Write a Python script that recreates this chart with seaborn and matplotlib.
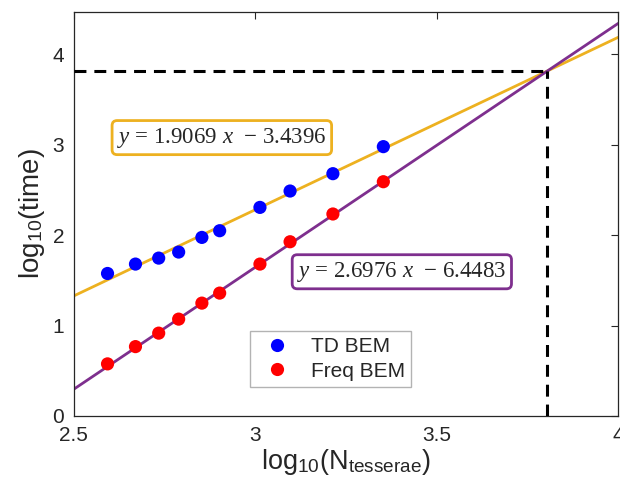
import numpy as np
import pandas as pd
import matplotlib
matplotlib.use("Agg")
import matplotlib.pyplot as plt
import seaborn as sns

# ---- data ----
log_n = [2.593, 2.670, 2.734, 2.789, 2.853, 2.902, 3.013, 3.096, 3.214, 3.353]
td_time = [1.576, 1.680, 1.746, 1.813, 1.975, 2.049, 2.307, 2.488, 2.680, 2.979]
freq_time = [0.576, 0.767, 0.916, 1.071, 1.248, 1.359, 1.680, 1.927, 2.234, 2.591]
series_names = ["TD BEM", "Freq BEM"]
td_fit = (1.9069, -3.4396)
freq_fit = (2.6976, -6.4483)
x_ticks = [2.5, 3, 3.5, 4]
x_tick_labels = ["2.5", "3", "3.5", "4"]
y_ticks = [0, 1, 2, 3, 4]

sns.set_theme(style="white")
plt.rcParams["font.family"] = ["Liberation Sans", "DejaVu Sans"]
plt.rcParams["mathtext.fontset"] = "custom"
plt.rcParams["mathtext.rm"] = "Liberation Sans"
plt.rcParams["mathtext.it"] = "Liberation Serif:italic"
plt.rcParams["mathtext.bf"] = "Liberation Sans:bold"

df = pd.DataFrame({
    "x": log_n * 2,
    "y": td_time + freq_time,
    "method": [series_names[0]] * len(log_n) + [series_names[1]] * len(log_n),
})

fig = plt.figure(figsize=(6.2, 4.94), dpi=100)
ax = fig.add_axes([0.119, 0.158, 0.878, 0.818])

yellow = "#EDB120"
purple = "#7E2F8E"

xline = np.array([2.5, 4.0])
fit_df = pd.DataFrame({
    "x": np.concatenate([xline, xline]),
    "y": np.concatenate([td_fit[0] * xline + td_fit[1], freq_fit[0] * xline + freq_fit[1]]),
    "fit": ["td"] * 2 + ["freq"] * 2,
})
sns.lineplot(data=fit_df, x="x", y="y", hue="fit", palette={"td": yellow, "freq": purple},
             linewidth=2, legend=False, ax=ax, zorder=2)

# intersection of the two fits
xi = (freq_fit[1] - td_fit[1]) / (td_fit[0] - freq_fit[0])
yi = td_fit[0] * xi + td_fit[1]
ax.plot([2.5, xi], [yi, yi], color="black", lw=2.2, linestyle=(0, (3.9, 2.6)), zorder=3)
ax.plot([xi, xi], [0, yi], color="black", lw=2.2, linestyle=(0, (3.9, 2.6)), zorder=3)

sns.scatterplot(data=df, x="x", y="y", hue="method",
                palette={series_names[0]: "#0000FF", series_names[1]: "#FF0000"},
                s=90, linewidth=0, ax=ax, zorder=4)

ax.set_xlim(2.5, 4.0)
ax.set_ylim(0, 4.47)
ax.set_xticks(x_ticks)
ax.set_xticklabels(x_tick_labels)
ax.set_yticks(y_ticks)
ax.tick_params(direction="in", length=5, width=0.8, colors="#262626", labelsize=15,
               top=True, right=True, pad=7)
ax.tick_params(axis="x", labeltop=False)
for sp in ax.spines.values():
    sp.set_color("#262626")
    sp.set_linewidth(0.9)

ax.set_xlabel(r"log$_{10}$(N$_{\rm tesserae}$)", fontsize=19.5, color="#262626", labelpad=2)
ax.set_ylabel(r"log$_{10}$(time)", fontsize=20, color="#262626", labelpad=4)

ax.text(2.908, 3.079, r"$y$ = 1.9069 $x$  − 3.4396", fontsize=16.5, family="Liberation Serif",
        ha="center", va="center", zorder=5,
        bbox=dict(boxstyle="round,pad=0.22,rounding_size=0.22", fc="white", ec=yellow, lw=2))
ax.text(3.404, 1.595, r"$y$ = 2.6976 $x$  − 6.4483", fontsize=16.5, family="Liberation Serif",
        ha="center", va="center", zorder=5,
        bbox=dict(boxstyle="round,pad=0.22,rounding_size=0.22", fc="white", ec=purple, lw=2))

handles, labels = ax.get_legend_handles_labels()
leg = ax.legend(handles, labels, loc="lower left", bbox_to_anchor=(0.324, 0.072),
                fontsize=15, frameon=True, fancybox=False, borderpad=0.3,
                handletextpad=0.6, labelspacing=0.25, borderaxespad=0)
leg.get_frame().set_edgecolor("#A0A0A0")
leg.get_frame().set_linewidth(1.0)

fig.savefig("out.png", dpi=100)
